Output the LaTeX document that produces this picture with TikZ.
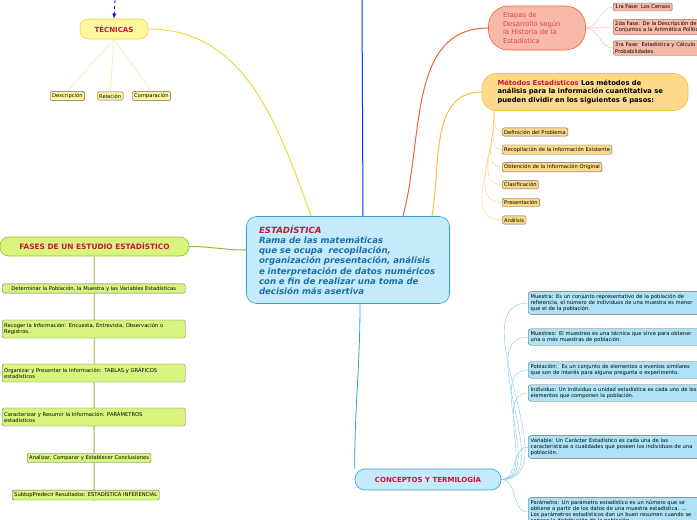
\documentclass[tikz,border=0pt]{standalone}
\usepackage{fontspec}
\setmainfont{DejaVu Sans}
\usetikzlibrary{positioning}
\definecolor{cblue}{HTML}{C5EBFB}
\definecolor{cbluedk}{HTML}{2A9FD8}
\definecolor{ctext}{HTML}{1F6FA8}
\definecolor{cred}{HTML}{D0103A}
\definecolor{cyel}{HTML}{FFF7A0}
\definecolor{cyeldk}{HTML}{F0D840}
\definecolor{csal}{HTML}{F9B9A8}
\definecolor{csaldk}{HTML}{F0603A}
\definecolor{corg}{HTML}{FDD98A}
\definecolor{corgdk}{HTML}{F5C040}
\definecolor{cgrn}{HTML}{D7F57E}
\definecolor{cgrndk}{HTML}{8BC21A}
\definecolor{ccon}{HTML}{AEE3F7}
\tikzset{
  leaf/.style={draw=gray!80!black, rounded corners=1.5pt, inner sep=2pt, anchor=west,
    font=\fontsize{5.2}{6.3}\selectfont, align=left},
  mainbox/.style={draw, rounded corners=10pt, line width=0.6pt, align=left},
}
\begin{document}
\lefthyphenmin=62 \righthyphenmin=62
\begin{tikzpicture}[x=1pt,y=-1pt]
\useasboundingbox (0,0) rectangle (697,520);
\clip (0,0) rectangle (697,520);
% central topic
\node[mainbox, draw=cbluedk, fill=cblue, minimum width=203pt, minimum height=87pt, text width=178pt,
  font=\fontsize{8.6}{10.3}\selectfont\bfseries\itshape, text=ctext] (est) at (348,260)
  {\textcolor{cred}{ESTADÍSTICA}\\Rama de las matemáticas que se ocupa \ recopilación, organización presentación, análisis e interpretación de datos numéricos con e fin de realizar una toma de decisión más asertiva};
% tecnicas
\node[mainbox, rounded corners=8pt, draw=cyeldk, fill=cyel, minimum width=68pt, minimum height=20pt,
  font=\fontsize{7}{8}\selectfont\bfseries, text=cred, align=center] (tec) at (114,29) {TÉCNICAS};
\coordinate (tectop) at (115,0);
\draw[blue, dashed, thick, -latex] (tectop) -- (tec.north);
\node[leaf, fill=cyel] (desc) at (50,96) {Descripción};
\node[leaf, fill=cyel] (rel) at (97,96) {Relación};
\node[leaf, fill=cyel] (comp) at (132,96) {Comparación};
\foreach \n in {desc,rel,comp} \draw[cyeldk!70, thin] (tec.south) -- (\n.north);
\draw[cyeldk, line width=1pt] (est.north west) ++(65,0) to[out=110, in=0] (tec.east);
% etapas
\node[mainbox, rounded corners=20pt, draw=csaldk, fill=csal, minimum width=97pt, minimum height=44pt, text width=68pt,
  font=\fontsize{6.8}{8.6}\selectfont, text=cred!80] (eta) at (537,28)
  {Etapas de Desarrollo según la Historia de la Estadística};
\node[leaf, fill=csal] (f1) at (613,7) {1ra Fase: Los Censos};
\node[leaf, fill=csal, text width=95pt] (f2) at (613,27) {2da Fase: De la Descripción de los Conjuntos a la Aritmética Política};
\node[leaf, fill=csal, text width=95pt] (f3) at (613,48) {3ra Fase: Estadística y Cálculo de Probabilidades};
\foreach \n in {f1,f2,f3} \draw[csaldk!50, thin] (eta.east) to[out=0, in=180] (\n.west);
\draw[csaldk, line width=1pt] (403,216) to[out=75, in=180] (eta.west);
% metodos
\node[mainbox, rounded corners=14pt, draw=corgdk, fill=corg, minimum width=206pt, minimum height=37pt, text width=175pt,
  font=\fontsize{6.8}{8.4}\selectfont\bfseries] (met) at (585,92)
  {\textcolor{cred}{Métodos Estadísticos} Los métodos de análisis para la información cuantitativa se pueden dividir en los siguientes 6 pasos:};
\draw[corgdk, line width=1pt] (432,216) to[out=80, in=180] (met.west);
\coordinate (metroot) at (494,111);
\foreach \t [count=\i] in {Definición del Problema, Recopilación de la Información Existente, Obtención de la Información Original, Clasificación, Presentación, Análisis} {
  \node[leaf, fill=corg] (m\i) at (502,{132+17.6*(\i-1)}) {\t};
  \draw[corgdk!70, thin] (metroot) -- (494,118) to[out=-90, in=180] (m\i.west);
}
% fases
\node[mainbox, rounded corners=9pt, draw=cgrndk, fill=cgrn, minimum width=189pt, minimum height=19pt,
  font=\fontsize{7.4}{8}\selectfont\bfseries, text=cred, align=center] (fas) at (94.5,246.5) {FASES DE UN ESTUDIO ESTADÍSTICO};
\draw[cgrndk, line width=1pt] (est.west |- 0,250) to[out=180, in=0] (fas.east);
\coordinate (fasend) at (94,501);
\draw[cgrn!70!gray, line width=1.5pt] (fas.south) -- (fasend);
\node[leaf, fill=cgrn, minimum width=183pt] (p1) at (2,288.5) {Determinar la Población, la Muestra y las Variables Estadísticas};
\node[leaf, fill=cgrn, minimum height=18pt, text width=179pt] (p2) at (2,329) {Recoger la Información: Encuesta, Entrevista, Observación o\\Registros.};
\node[leaf, fill=cgrn, minimum height=18pt, text width=179pt] (p3) at (2,373) {Organizar y Presentar la Información: TABLAS y GRÁFICOS\\estadísticos};
\node[leaf, fill=cgrn, minimum height=18pt, text width=179pt] (p4) at (2,417) {Caracterizar y Resumir la Información: PARÁMETROS\\estadísticos};
\node[leaf, fill=cgrn] (p5) at (27,458) {Analizar, Comparar y Establecer Conclusiones};
\node[leaf, fill=cgrn] (p6) at (12,495) {SubtopPredecir Resultados: ESTADÍSTICA INFERENCIAL};
% conceptos
\node[mainbox, rounded corners=10pt, draw=cbluedk, fill=cblue, minimum width=146pt, minimum height=21pt,
  font=\fontsize{7}{8}\selectfont\bfseries, text=cred, align=center] (con) at (428,479.5) {CONCEPTOS Y TERMILOGÍA};
\draw[cbluedk, line width=0.8pt] (est.south) ++(12,0) to[out=-90, in=90] (con.north west);
\coordinate (esttop) at (362,0);
\draw[blue!80!cyan, line width=1pt] (363,216) -- (esttop);
\foreach \t/\y in {
  {Muestra: Es un conjunto representativo de la población de referencia, el número de individuos de una muestra es menor que el de la población.}/303,
  {Muestreo: El muestreo es una técnica que sirve para obtener una o más muestras de población.}/337,
  {Población: \ Es un conjunto de elementos o eventos similares que son de interés para alguna pregunta o experimento.}/370,
  {Individuo: Un individuo o unidad estadística es cada uno de los elementos que componen la población.}/393,
  {Variable: Un Carácter Estadístico es cada una de las características o cualidades que poseen los individuos de una población.}/447,
  {Parámetro: Un parámetro estadístico es un número que se obtiene a partir de los datos de una muestra estadística. ... Los parámetros estadísticos dan un buen resumen cuando se conoce la distribución de la población.}/512} {
  \node[leaf, fill=ccon, text width=170pt, rounded corners=3pt, inner sep=2.5pt] (c\y) at (528,\y) {\t};
  \draw[cbluedk!60, thin] (con.east) to[out=0, in=180] (c\y.west);
}
\end{tikzpicture}
\end{document}
